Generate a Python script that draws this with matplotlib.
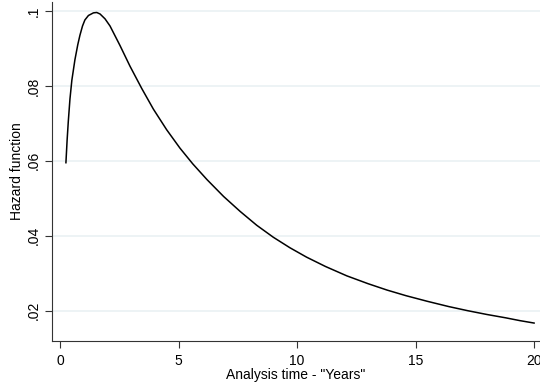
import matplotlib
matplotlib.use("Agg")
import matplotlib.pyplot as plt

# hazard curve values
years = [0.25, 0.3, 0.35, 0.42, 0.5, 0.63, 0.75, 0.84, 0.95, 1.05, 1.2, 1.41,
         1.55, 1.69, 1.9, 2.11, 2.53, 2.95, 3.45, 3.94, 4.5, 5.06, 5.6, 6.2,
         6.9, 7.6, 8.3, 9.0, 9.7, 10.4, 11.2, 12.1, 13.0, 13.8, 14.6, 15.5,
         16.4, 17.2, 18.0, 18.8, 19.4, 20.0]
hazard = [0.0595, 0.0655, 0.0705, 0.0765, 0.0815, 0.0870, 0.0910, 0.0935,
          0.0960, 0.0976, 0.0988, 0.0995, 0.0996, 0.0992, 0.0979, 0.0960,
          0.0908, 0.0853, 0.0793, 0.0738, 0.0683, 0.0634, 0.0592, 0.0550,
          0.0505, 0.0465, 0.0428, 0.0396, 0.0368, 0.0343, 0.0318, 0.0293,
          0.0272, 0.0255, 0.0240, 0.0225, 0.0211, 0.0200, 0.0190, 0.0181,
          0.01735, 0.0167]

xticks = [0, 5, 10, 15, 20]
yticks = [0.02, 0.04, 0.06, 0.08, 0.10]
ytick_labels = [".02", ".04", ".06", ".08", ".1"]

plt.rcParams['font.family'] = ['Liberation Sans', 'DejaVu Sans']

fig = plt.figure(figsize=(5.4, 3.83), dpi=100)
ax = fig.add_axes([51.7 / 540, 1 - 341 / 383, (540 - 51.7) / 540, 339 / 383])

for y in yticks:
    ax.axhline(y, color='#eaf1f3', lw=1.2, zorder=0)

ax.plot(years, hazard, color='black', lw=1.1)

ax.set_xlim(-0.35, 20.25)
ax.set_ylim(0.01191, 0.1024)
ax.set_xticks(xticks)
ax.set_yticks(yticks)
ax.set_yticklabels(ytick_labels, rotation=90, va='center')
ax.tick_params(labelsize=10, length=5, width=0.8, color='#333333')
ax.tick_params(axis='x', pad=4.5)
ax.tick_params(axis='y', pad=3)

ax.spines['top'].set_visible(False)
ax.spines['right'].set_visible(False)
ax.spines['left'].set_color('#333333')
ax.spines['bottom'].set_color('#333333')

ax.set_xlabel('Analysis time - "Years"', fontsize=10, labelpad=0)
ax.set_ylabel('Hazard function', fontsize=10, labelpad=2)

fig.savefig('out.png', dpi=100)
